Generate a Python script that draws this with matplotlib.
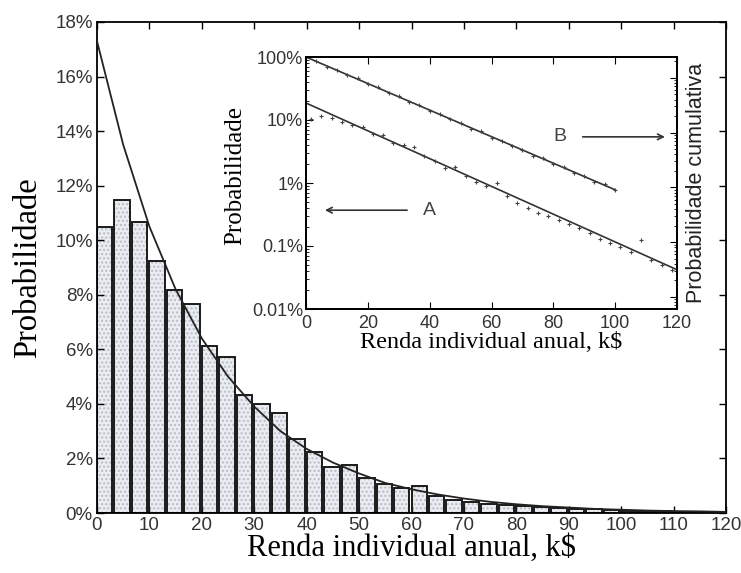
import matplotlib
matplotlib.use("Agg")
import matplotlib.pyplot as plt
import numpy as np

# ---------------- data ----------------
bin_width = 10 / 3  # k$
bar_pct = [10.5, 11.47, 10.68, 9.25, 8.17, 7.66, 6.13, 5.73, 4.33, 4.0,
           3.67, 2.7, 2.24, 1.7, 1.76, 1.28, 1.06, 0.9, 1.0, 0.62,
           0.48, 0.40, 0.34, 0.30, 0.26, 0.22, 0.19, 0.16, 0.13, 0.11,
           0.09, 0.08, 0.06, 0.05, 0.02, 0.01]

curve_x = [0, 5, 10, 15, 20, 25, 30, 35, 40, 45, 50, 55, 60, 65, 70, 75, 80,
           85, 90, 95, 100, 105, 110, 115, 120]
curve_pct = [17.3, 13.5, 10.5, 8.2, 6.4, 5.0, 3.9, 3.0, 2.35, 1.85, 1.45,
             1.1, 0.87, 0.68, 0.53, 0.41, 0.32, 0.25, 0.2, 0.15, 0.12, 0.09,
             0.07, 0.06, 0.04]

main_yticks = [0, 2, 4, 6, 8, 10, 12, 14, 16, 18]
main_xticks = [0, 10, 20, 30, 40, 50, 60, 70, 80, 90, 100, 110, 120]

# inset: A = probability per bin, B = cumulative probability (percent)
a_x = [1.7, 5.0, 8.3, 11.7, 15.0, 18.3, 21.7, 25.0, 28.3, 31.7, 35.0, 38.3,
       41.7, 45.0, 48.3, 51.7, 55.0, 58.3, 61.7, 65.0, 68.3, 71.7, 75.0,
       78.3, 81.7, 85.0, 88.3, 91.7, 95.0, 98.3, 101.7, 105.0, 108.3,
       111.7, 115.0, 118.3]
a_pct = [10.5, 11.5, 10.7, 9.3, 8.2, 7.7, 6.1, 5.7, 4.3, 4.0, 3.7, 2.7,
         2.2, 1.7, 1.8, 1.3, 1.05, 0.9, 1.0, 0.62, 0.48, 0.40, 0.34, 0.30,
         0.26, 0.22, 0.19, 0.16, 0.13, 0.11, 0.095, 0.08, 0.125, 0.06,
         0.05, 0.042]
b_x = [0.0, 3.3, 6.7, 10.0, 13.3, 16.7, 20.0, 23.3, 26.7, 30.0, 33.3, 36.7,
       40.0, 43.3, 46.7, 50.0, 53.3, 56.7, 60.0, 63.3, 66.7, 70.0, 73.3,
       76.7, 80.0, 83.3, 86.7, 90.0, 93.3, 96.7, 100.0]
b_pct = [100, 86, 70, 63, 51, 46, 37, 33, 27, 24, 19.5, 17.5, 14, 12.5,
         10.2, 9.0, 7.3, 6.6, 5.2, 4.7, 3.8, 3.4, 2.7, 2.5, 2.0, 1.8, 1.45,
         1.3, 1.05, 0.95, 0.78]
fit_a_x = [0, 120]
fit_a_pct = [18.6, 0.042]
fit_b_x = [0, 100]
fit_b_pct = [100, 0.78]
inset_yticks = [100, 10, 1, 0.1, 0.01]
inset_ylabels = ["100%", "10%", "1%", "0.1%", "0.01%"]
inset_xticks = [0, 20, 40, 60, 80, 100, 120]

# ---------------- figure ----------------
W, H = 741, 573
fig = plt.figure(figsize=(W / 100, H / 100), dpi=100)
sans = ["Liberation Sans", "DejaVu Sans"]
serif = ["Liberation Serif", "DejaVu Serif"]

ax = fig.add_axes([97 / W, 1 - 513 / H, (726 - 97) / W, (513 - 22) / H])
lefts = [i * bin_width for i in range(len(bar_pct))]
ax.bar(lefts, bar_pct, width=2.95, align="edge", color="#e9ecf1",
       edgecolor="#b8bcc4", hatch="....", linewidth=0, zorder=1)
ax.bar(lefts, bar_pct, width=2.95, align="edge", fill=False,
       edgecolor="#1a1a1a", linewidth=1.4, zorder=2)
ax.plot(curve_x, curve_pct, color="#222222", lw=1.3, zorder=3)

ax.set_xlim(0, 120)
ax.set_ylim(0, 18)
ax.set_xticks(main_xticks)
ax.set_yticks(main_yticks)
ax.set_yticklabels([f"{v}%" for v in main_yticks])
ax.tick_params(direction="in", top=True, right=True, length=5,
               labelsize=13.5, pad=3, width=1)
for lab in ax.get_xticklabels() + ax.get_yticklabels():
    lab.set_family(sans)
    lab.set_color("#333333")
for s in ax.spines.values():
    s.set_linewidth(1.3)
ax.set_xlabel("Renda individual anual, k$", family=serif, fontsize=22,
              labelpad=0)
ax.set_ylabel("Probabilidade", family=serif, fontsize=23.5)
ax.yaxis.set_label_coords(-0.085, 0.5)

# ---------------- inset ----------------
ax_in = fig.add_axes([306 / W, 1 - 309 / H, (677 - 306) / W, (309 - 57) / H])
ax_in.set_facecolor("white")
ax_in.set_yscale("log")
ax_in.plot(fit_a_x, fit_a_pct, color="#333333", lw=1.2)
ax_in.plot(fit_b_x, fit_b_pct, color="#333333", lw=1.2)
ax_in.plot(a_x, a_pct, ls="none", marker="+", ms=3.5, mew=0.8,
           color="#444444")
ax_in.plot(b_x, b_pct, ls="none", marker="+", ms=3.5, mew=0.8,
           color="#444444")
ax_in.set_xlim(0, 120)
ax_in.set_ylim(0.01, 100)
ax_in.set_xticks(inset_xticks)
ax_in.set_yticks(inset_yticks)
ax_in.set_yticklabels(inset_ylabels)
ax_in.tick_params(direction="in", top=True, right=False, length=5,
                  labelsize=13, pad=2)
ax_in.tick_params(axis="x", pad=4)
ax_in.tick_params(which="minor", direction="in", length=2.5, right=False)
for lab in ax_in.get_xticklabels() + ax_in.get_yticklabels():
    lab.set_family(sans)
    lab.set_color("#333333")
for s in ax_in.spines.values():
    s.set_linewidth(1.3)
ax_in.set_xlabel("Renda individual anual, k$", family=serif, fontsize=17.5,
                 labelpad=0)
ax_in.set_ylabel("Probabilidade", family=serif, fontsize=18)
ax_in.yaxis.set_label_coords(-0.16, 0.53)

ax_r = ax_in.twinx()
ax_r.set_yscale("log")
ax_r.set_ylim(10 ** -4.22, 10 ** 0.38)
ax_r.set_yticks([1, 0.1, 0.01, 0.001, 0.0001])
ax_r.set_yticklabels([])
ax_r.tick_params(direction="in", length=5)
ax_r.tick_params(which="minor", direction="in", length=2.5)
ax_r.set_ylabel("Probabilidade cumulativa", family=sans, fontsize=15.5,
                color="#222222", labelpad=3)
for s in ax_r.spines.values():
    s.set_linewidth(1.3)

ax_in.annotate("", xy=(5.2, 0.37), xytext=(33.6, 0.37),
               arrowprops=dict(arrowstyle="->", color="#333333", lw=1.2))
ax_in.text(40, 0.37, "A", family=sans, fontsize=14, color="#444444",
           ha="center", va="center")
ax_in.annotate("", xy=(117, 5.4), xytext=(88.6, 5.4),
               arrowprops=dict(arrowstyle="->", color="#333333", lw=1.2))
ax_in.text(82, 5.4, "B", family=sans, fontsize=14, color="#444444",
           ha="center", va="center")

fig.savefig("out.png", dpi=100)
